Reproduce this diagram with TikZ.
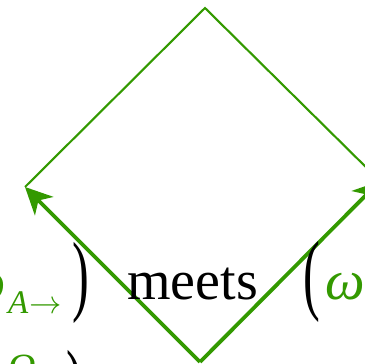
\documentclass[tikz,border=0pt]{standalone}
\usepackage{fontspec}
\setmainfont{Liberation Serif}
\usetikzlibrary{arrows.meta}
\definecolor{dgreen}{RGB}{51,153,0}
\tikzset{
  thinedge/.style={draw=dgreen, line width=2.1pt, line join=miter},
  thickedge/.style={draw=dgreen, line width=3.8pt, -{Stealth[length=27pt,width=26pt,inset=8pt]}},
  bigtxt/.style={inner sep=0pt, font=\fontsize{56}{60}\selectfont},
  subtxt/.style={inner sep=0pt, text=dgreen, font=\fontsize{33}{36}\selectfont\itshape},
  gtxt/.style={bigtxt, text=dgreen},
}
\begin{document}
\begin{tikzpicture}[x=1pt,y=1pt]
\useasboundingbox (0,0) rectangle (365,364);
\coordinate (T) at (205,356);
\coordinate (L) at (25,177);
\coordinate (R) at (380,183);
\coordinate (B) at (200,2);
\draw[thinedge] (L) -- (T) -- (R);
\draw[thickedge] (B) -- (L);
\draw[thickedge] (B) -- (R);
% first row
\node[gtxt, anchor=base east, font=\fontsize{56}{60}\selectfont\itshape] (w1) at (6,64) {ω};
\node[subtxt, anchor=base west] (sub1) at (8,50) {A\hspace{1pt}{\fontsize{24.88}{28}\selectfont\scalebox{1.3}{$\to$}}};
\node[bigtxt, anchor=center] (rp1) at (81,81) {\scalebox{0.9}[1.6]{)}};
\node[bigtxt, anchor=base west] (meets) at (127,64) {meets};
\node[bigtxt, anchor=center] (lp2) at (312,82) {\scalebox{0.9}[1.6]{(}};
\node[gtxt, anchor=base west, font=\fontsize{56}{60}\selectfont\itshape] (w2) at (325,64) {ω};
% second row (cut off)
\node[gtxt, anchor=north, font=\fontsize{40}{44}\selectfont\itshape] (om) at (22,9) {Ω};
\node[bigtxt, anchor=center] (rp2) at (75,-27) {\scalebox{0.9}[1.6]{)}};
\end{tikzpicture}
\end{document}
